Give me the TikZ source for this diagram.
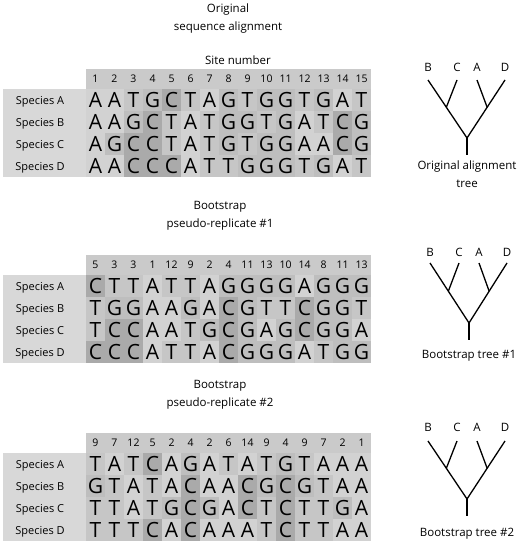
\documentclass[tikz,border=0pt]{standalone}
\usepackage{fontspec}
\setmainfont{Open Sans}
\usetikzlibrary{calc}
\definecolor{hdr}{HTML}{CACACA}
\definecolor{pnl}{HTML}{D8D8D8}
\definecolor{nA}{HTML}{D2D2D2}
\definecolor{nT}{HTML}{C6C6C6}
\definecolor{nG}{HTML}{BEBEBE}
\definecolor{nC}{HTML}{AAAAAA}
\tikzset{
  cell/.style={minimum width=19pt, minimum height=22pt, inner sep=0pt, text height=15pt, text depth=0pt, font=\fontsize{21}{21}\selectfont},
  numtxt/.style={inner sep=0pt, text height=7.5pt, text depth=0pt, font=\fontsize{10.5}{12}\selectfont},
  splabel/.style={inner sep=0pt, text height=8pt, text depth=0pt, font=\fontsize{11}{13}\selectfont},
  ttl/.style={align=center, inner sep=0pt, font=\fontsize{11.5}{18}\selectfont},
  hdrbox/.style={fill=hdr, minimum width=285pt, minimum height=20pt, inner sep=0pt},
  pnlbox/.style={fill=pnl, minimum width=83pt, minimum height=88pt, inner sep=0pt},
  branch/.style={line width=1.3pt},
  leaf/.style={inner sep=0pt, text height=8pt, text depth=0pt, font=\fontsize{11.5}{13}\selectfont},
}
\newcommand\alhead[3]{% prefix, top, numbers
  \node[pnlbox] (#1pnl) at (44.5,#2+44) {};
  \node[hdrbox] (#1hdr) at (228.5,#2-10) {};
  \foreach \n [count=\i] in {#3} \node[numtxt] (#1n\i) at ({86+19*(\i-0.5)},#2-10) {\n};
}
\newcommand\alrow[4]{% prefix, y, letters, label
  \node[splabel] (#1lab) at (40,#2) {#4};
  \foreach \b [count=\i] in {#3} \node[cell,fill=n\b] (#1c\i) at ({86+19*(\i-0.5)},#2) {\b};
}
\newcommand\phylo[6]{% prefix, dx, label y, leaf y, root y, bottom y
  \node[leaf] (#1lB) at (#2+428,#3) {B};
  \node[leaf] (#1lC) at (#2+457,#3) {C};
  \node[leaf] (#1lA) at (#2+477,#3) {A};
  \node[leaf] (#1lD) at (#2+505,#3) {D};
  \coordinate (#1B) at (#2+428,#4);
  \coordinate (#1C) at (#2+457,#4);
  \coordinate (#1A) at (#2+477,#4);
  \coordinate (#1D) at (#2+505,#4);
  \coordinate (#1R) at (#2+467,#5);
  \coordinate (#1S) at (#2+467,#6);
  \coordinate (#1jBC) at ($(#1B)!0.47!(#1R)$);
  \coordinate (#1jAD) at ($(#1D)!0.47!(#1R)$);
  \draw[branch] (#1B) -- (#1R) -- (#1D);
  \draw[branch] (#1C) -- (#1jBC);
  \draw[branch] (#1A) -- (#1jAD);
  \draw[branch] (#1R) -- (#1S);
}
\begin{document}
\begin{tikzpicture}[x=1pt,y=-1pt]
\useasboundingbox[fill=white] (0,0) rectangle (520,543);
% titles
\node[ttl] (title1) at (228,19) {Original\\sequence alignment};
\node[ttl] (site) at (238,60) {Site number};
\node[ttl] (title2) at (220,216) {Bootstrap\\pseudo-replicate \#1};
\node[ttl] (title3) at (220,395) {Bootstrap\\pseudo-replicate \#2};
% block 1
\alhead{a}{89}{1,2,3,4,5,6,7,8,9,10,11,12,13,14,15}
\alrow{aA}{100}{A,A,T,G,C,T,A,G,T,G,G,T,G,A,T}{Species A}
\alrow{aB}{122}{A,A,G,C,T,A,T,G,G,T,G,A,T,C,G}{Species B}
\alrow{aC}{144}{A,G,C,C,T,A,T,G,T,G,G,A,A,C,G}{Species C}
\alrow{aD}{166}{A,A,C,C,C,A,T,T,G,G,G,T,G,A,T}{Species D}
% block 2
\alhead{b}{275}{5,3,3,1,12,9,2,4,11,13,10,14,8,11,13}
\alrow{bA}{286}{C,T,T,A,T,T,A,G,G,G,G,A,G,G,G}{Species A}
\alrow{bB}{308}{T,G,G,A,A,G,A,C,G,T,T,C,G,G,T}{Species B}
\alrow{bC}{330}{T,C,C,A,A,T,G,C,G,A,G,C,G,G,A}{Species C}
\alrow{bD}{352}{C,C,C,A,T,T,A,C,G,G,G,A,T,G,G}{Species D}
% block 3
\alhead{c}{453}{9,7,12,5,2,4,2,6,14,9,4,9,7,2,1}
\alrow{cA}{464}{T,A,T,C,A,G,A,T,A,T,G,T,A,A,A}{Species A}
\alrow{cB}{486}{G,T,A,T,A,C,A,A,C,G,C,G,T,A,A}{Species B}
\alrow{cC}{508}{T,T,A,T,G,C,G,A,C,T,C,T,T,G,A}{Species C}
\alrow{cD}{530}{T,T,T,C,A,C,A,A,A,T,C,T,T,A,A}{Species D}
% trees
\phylo{t1}{0}{67}{80}{138}{155}
\node[ttl] (cap1) at (467,174) {Original alignment\\tree};
\phylo{t2}{2}{252}{263}{323}{340}
\node[ttl] (cap2) at (469,356) {Bootstrap tree \#1};
\phylo{t3}{0}{427}{441}{499}{516}
\node[ttl] (cap3) at (467,534) {Bootstrap tree \#2};
\end{tikzpicture}
\end{document}
